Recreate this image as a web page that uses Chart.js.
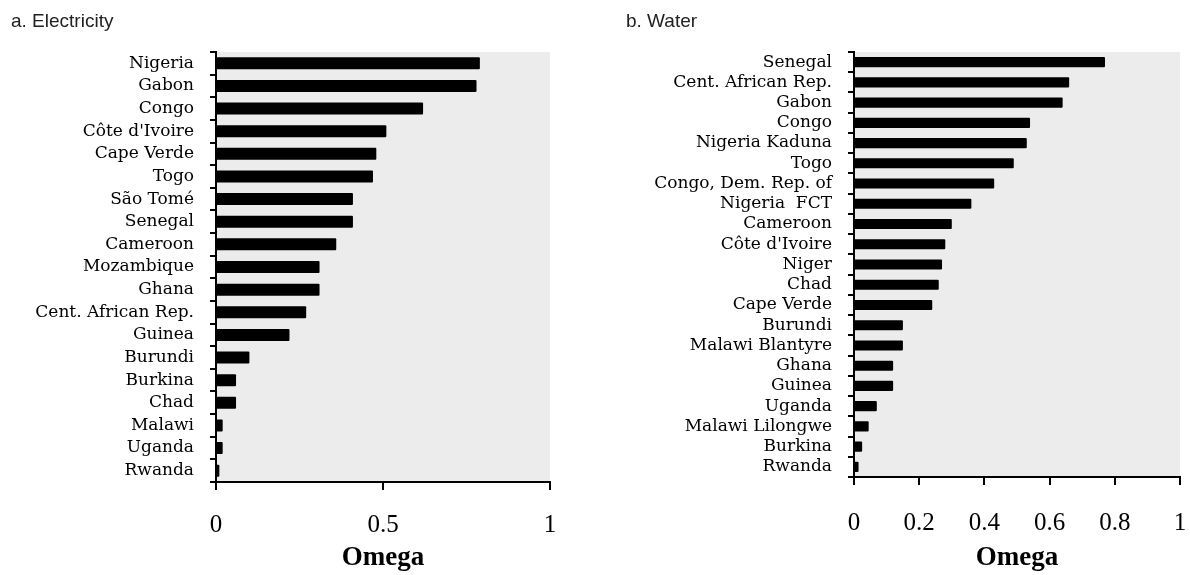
<!DOCTYPE html>
<html>
<head>
<meta charset="utf-8">
<script src="https://cdn.jsdelivr.net/npm/chart.js@4"></script>
<style>
  html, body { margin:0; padding:0; background:#fff; }
  body { width:1190px; height:575px; position:relative; overflow:hidden; }
  .panel { position:absolute; top:0; width:595px; height:575px; }
  .ttl { position:absolute; top:10px; font:19px "Liberation Sans", Arial, sans-serif; color:#222; }
</style>
</head>
<body>
<div class="panel" style="left:0"><canvas id="ch_elec"></canvas></div>
<div class="panel" style="left:595px"><canvas id="ch_water"></canvas></div>
<div class="ttl" style="left:11px">a. Electricity</div>
<div class="ttl" style="left:626px">b. Water</div>
<script>
'use strict';

/* ── data ── */
const elecCountries = ['Nigeria','Gabon','Congo',"Côte d'Ivoire",'Cape Verde','Togo','São Tomé','Senegal','Cameroon',
  'Mozambique','Ghana','Cent. African Rep.','Guinea','Burundi','Burkina','Chad','Malawi','Uganda','Rwanda'];
const elecOmega = [0.79,0.78,0.62,0.51,0.48,0.47,0.41,0.41,0.36,0.31,0.31,0.27,0.22,0.10,0.06,0.06,0.02,0.02,0.01];

const waterCountries = ['Senegal','Cent. African Rep.','Gabon','Congo','Nigeria Kaduna','Togo','Congo, Dem. Rep. of',
  'Nigeria  FCT','Cameroon',"Côte d'Ivoire",'Niger','Chad','Cape Verde','Burundi','Malawi Blantyre','Ghana','Guinea',
  'Uganda','Malawi Lilongwe','Burkina','Rwanda'];
const waterOmega = [0.77,0.66,0.64,0.54,0.53,0.49,0.43,0.36,0.30,0.28,0.27,0.26,0.24,0.15,0.15,0.12,0.12,0.07,0.045,0.025,0.014];

const elecTicks = [0,0.5,1];
const waterTicks = [0,0.2,0.4,0.6,0.8,1];

/* ── shared look ── */
const SERIF = '"Liberation Serif", "Times New Roman", serif';
const LABEL_FONT = '"DejaVu Serif", serif';
const plotBg = {
  id:'plotBg',
  beforeDraw(chart){
    const {ctx, chartArea:a} = chart;
    ctx.save();
    ctx.fillStyle = '#ececec';
    ctx.fillRect(a.left, a.top, a.right - a.left, a.bottom - a.top);
    ctx.restore();
  }
};

function build(id, labels, values, ticks, o) {
  return new Chart(document.getElementById(id), {
    type:'bar',
    data:{ labels, datasets:[{ data:values, backgroundColor:'#000', barPercentage:o.bar, categoryPercentage:1, borderRadius:1 }] },
    options:{
      indexAxis:'y', responsive:true, maintainAspectRatio:false, animation:false,
      layout:{ padding:{ left:0, top:52, right:o.right, bottom:0 } },
      plugins:{ legend:{display:false}, tooltip:{enabled:false} },
      scales:{
        y:{
          grid:{ display:true, drawOnChartArea:false, drawTicks:true, tickLength:6, color:'#000', lineWidth:2, offset:true },
          border:{ display:true, color:'#000', width:2 },
          ticks:{ color:'#000', font:{ family:LABEL_FONT, size:17 }, padding:16, autoSkip:false },
          afterFit(s){ s.width = o.yw; }
        },
        x:{
          min:0, max:1,
          afterBuildTicks(s){ s.ticks = ticks.map(v => ({ value:v })); },
          grid:{ display:true, drawOnChartArea:false, drawTicks:true, tickLength:8, color:'#000', lineWidth:2 },
          border:{ display:true, color:'#000', width:2 },
          ticks:{ color:'#000', font:{ family:SERIF, size:25 }, padding:o.tp, maxRotation:0,
                  callback:(v) => String(v) },
          title:{ display:true, text:'Omega', color:'#000', font:{ family:SERIF, size:27, weight:'bold' }, padding:{ top:0, bottom:1 } },
          afterFit(s){ s.height = o.xh; s.paddingLeft = 0; s.paddingRight = 7; }
        }
      }
    },
    plugins:[plotBg]
  });
}

build('ch_elec', elecCountries, elecOmega, elecTicks, { bar:0.53, right:45, yw:216, xh:93, tp:20 });
build('ch_water', waterCountries, waterOmega, waterTicks, { bar:0.5, right:10, yw:259, xh:98, tp:23 });
</script>
</body>
</html>
